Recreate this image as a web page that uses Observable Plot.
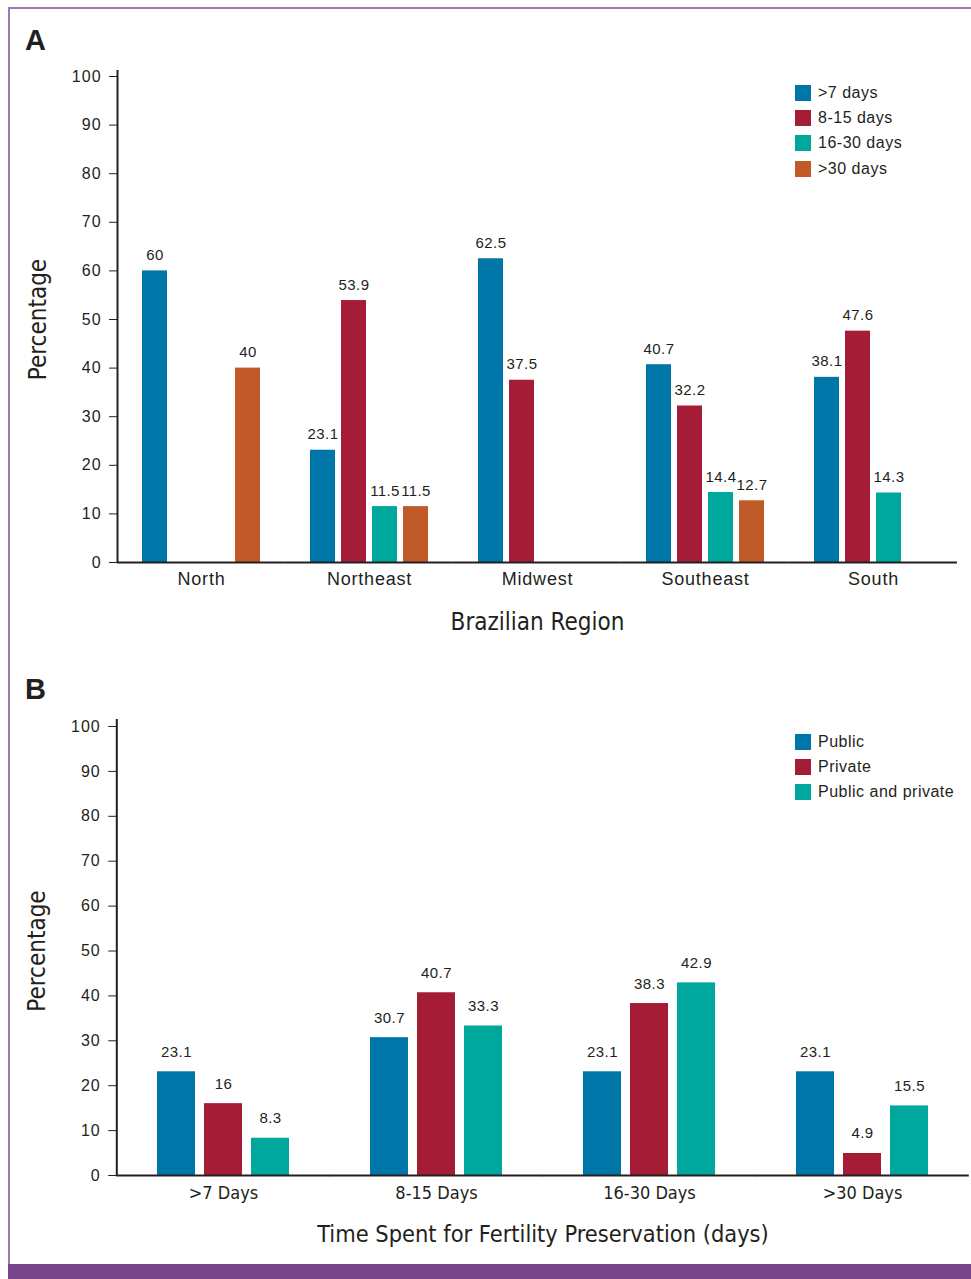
<!DOCTYPE html>
<html>
<head>
<meta charset="utf-8">
<script src="https://cdn.jsdelivr.net/npm/d3@7"></script>
<script src="https://cdn.jsdelivr.net/npm/@observablehq/plot@0.6"></script>
<style>
  html, body { margin: 0; padding: 0; background: #fff; }
  #page { position: relative; width: 971px; height: 1279px; overflow: hidden; background: #fff; font-family: "Liberation Sans", Arial, sans-serif; }
  .frame-left { position: absolute; left: 8px; top: 7px; width: 2px; height: 1260px; background: #9b7bb1; }
  .frame-top { position: absolute; left: 8px; top: 7px; right: 0; height: 2px; background: #9b7bb1; }
  .bottom-bar { position: absolute; left: 8px; right: 0; top: 1264px; bottom: 0; background: #77458a; }
  .panel { position: absolute; left: 0; }
  .letter { position: absolute; font-family: "Liberation Sans", Arial, sans-serif; font-weight: bold; font-size: 29px; color: #231f20; }
  .legend { position: absolute; font-family: "Liberation Sans", Arial, sans-serif; font-size: 16px; color: #231f20; letter-spacing: 0.5px; }
  .legend .row { display: flex; align-items: center; height: 25.3px; }
  .legend .sw { width: 16px; height: 16px; margin-right: 7px; }
  g[aria-label="y-axis label"] text, g[aria-label="fx-axis label"] text { font-family: "Liberation Sans Narrow", "DejaVu Sans Condensed", sans-serif; }
  g[aria-label="y-axis tick label"] text { letter-spacing: 1px; }
  g[aria-label="text"] text { letter-spacing: 0.4px; }
  .panelA g[aria-label="fx-axis tick label"] text { letter-spacing: 0.8px; }
  .panelB g[aria-label="fx-axis tick label"] text { font-family: "Liberation Sans Narrow", "DejaVu Sans Condensed", sans-serif; }
</style>
</head>
<body>
<div id="page">
  <div class="frame-left"></div>
  <div class="frame-top"></div>
  <div class="bottom-bar"></div>
  <div class="letter" style="left:25px; top:24px;">A</div>
  <div class="letter" style="left:25px; top:673px;">B</div>
  <div id="panelA" class="panel panelA" style="top:0px;"></div>
  <div id="panelB" class="panel panelB" style="top:650px;"></div>
  <div id="legendA" class="legend" style="left:795px; top:80px;"></div>
  <div id="legendB" class="legend" style="left:795px; top:729px;"></div>
</div>
<script>
// ---------- Data: Panel A ----------
const regions = ["North", "Northeast", "Midwest", "Southeast", "South"];
const seriesA = [">7 days", "8-15 days", "16-30 days", ">30 days"];
const colorsA = ["#0076a8", "#a51c36", "#00a79d", "#c05a28"];
const valsA_7 = [60, 23.1, 62.5, 40.7, 38.1];
const valsA_8_15 = [null, 53.9, 37.5, 32.2, 47.6];
const valsA_16_30 = [null, 11.5, null, 14.4, 14.3];
const valsA_30 = [40, 11.5, null, 12.7, null];
const yTicks = [0, 10, 20, 30, 40, 50, 60, 70, 80, 90, 100];

// ---------- Data: Panel B ----------
const periods = [">7 Days", "8-15 Days", "16-30 Days", ">30 Days"];
const seriesB = ["Public", "Private", "Public and private"];
const colorsB = ["#0076a8", "#a51c36", "#00a79d"];
const valsB_public = [23.1, 30.7, 23.1, 23.1];
const valsB_private = [16, 40.7, 38.3, 4.9];
const valsB_both = [8.3, 33.3, 42.9, 15.5];

// ---------- Build tables ----------
function table(cats, series, arrays) {
  const out = [];
  series.forEach((s, i) => {
    arrays[i].forEach((v, j) => {
      if (v != null) out.push({cat: cats[j], series: s, value: v});
    });
  });
  return out;
}
const dataA = table(regions, seriesA, [valsA_7, valsA_8_15, valsA_16_30, valsA_30]);
const dataB = table(periods, seriesB, [valsB_public, valsB_private, valsB_both]);

function panel({data, cats, series, colors, height, marginLeft, marginRight, marginTop, marginBottom,
                fxInner, xPad, xLabel, tickSize, tickPad, xLabelSize, xLabelOffset, valueDy, axisOvershoot}) {
  const width = 971;
  const W = width - marginLeft - marginRight;
  const n = cats.length, m = series.length;
  const stepFx = W / n;
  const gap = fxInner * stepFx;
  const fw = stepFx * (1 - fxInner);
  const s = fw / (m + xPad);
  const firstCenter = s * xPad + s * (1 - xPad) / 2;
  const yLabelOffset = gap / 2 + marginLeft - 27;
  const svg = Plot.plot({
    width, height, marginLeft, marginRight, marginTop, marginBottom,
    style: {fontFamily: '"Liberation Sans", Arial, sans-serif', color: "#231f20", background: "transparent", overflow: "visible"},
    fx: {domain: cats, paddingInner: fxInner, paddingOuter: fxInner / 2, label: null},
    x: {domain: series, padding: xPad, axis: null},
    y: {domain: [0, 100], axis: null},
    color: {domain: series, range: colors},
    marks: [
      Plot.barY(data, {fx: "cat", x: "series", y: "value", fill: "series"}),
      Plot.text(data, {fx: "cat", x: "series", y: "value", text: d => String(d.value),
        dy: valueDy, lineAnchor: "bottom", fontSize: 15, fill: "#231f20"}),
      Plot.ruleY([0], {stroke: "#231f20", strokeWidth: 2, insetLeft: -gap / 2, insetRight: -gap / 2}),
      Plot.ruleX([{cat: cats[0], series: series[0]}], {fx: "cat", x: "series", y1: 100, y2: 0,
        stroke: "#231f20", strokeWidth: 2, dx: -(gap / 2 + firstCenter), insetBottom: -1, insetTop: -axisOvershoot}),
      Plot.axisFx({anchor: "bottom", tickSize: 0, tickPadding: tickPad, fontSize: tickSize,
        label: xLabel, labelAnchor: "center", labelArrow: "none", labelOffset: xLabelOffset}),
      Plot.axisY({ticks: yTicks, tickSize: 8, tickPadding: 8, fontSize: 16, label: "Percentage",
        labelAnchor: "center", labelArrow: "none", labelOffset: yLabelOffset, dx: -gap / 2})
    ]
  });
  svg.querySelectorAll('g[aria-label="y-axis label"]').forEach(g => g.setAttribute("font-size", 24));
  svg.querySelectorAll('g[aria-label="fx-axis label"]').forEach(g => g.setAttribute("font-size", xLabelSize));
  return svg;
}

const plotA = panel({data: dataA, cats: regions, series: seriesA, colors: colorsA, height: 650,
  marginLeft: 116, marginRight: 13, marginTop: 76, marginBottom: 88,
  fxInner: 0.225, xPad: 0.19, xLabel: "Brazilian Region",
  tickSize: 18, tickPad: 10, xLabelSize: 24, xLabelOffset: 67, valueDy: -11, axisOvershoot: 6});
document.getElementById("panelA").appendChild(plotA);

const plotB = panel({data: dataB, cats: periods, series: seriesB, colors: colorsB, height: 614,
  marginLeft: 116, marginRight: 2, marginTop: 76, marginBottom: 89,
  fxInner: 0.298, xPad: 0.19, xLabel: "Time Spent for Fertility Preservation (days)",
  tickSize: 18, tickPad: 11, xLabelSize: 23.4, xLabelOffset: 66, valueDy: -15, axisOvershoot: 7});
document.getElementById("panelB").appendChild(plotB);

// ---------- Legends ----------
function legend(el, svg, series) {
  const color = svg.scale("color");
  const ramp = d3.scaleOrdinal(color.domain, color.range);
  series.forEach(s => {
    const row = document.createElement("div");
    row.className = "row";
    const sw = document.createElement("div");
    sw.className = "sw";
    sw.style.background = ramp(s);
    const t = document.createElement("span");
    t.textContent = s;
    row.appendChild(sw); row.appendChild(t);
    el.appendChild(row);
  });
}
legend(document.getElementById("legendA"), plotA, seriesA);
legend(document.getElementById("legendB"), plotB, seriesB);
</script>
</body>
</html>
